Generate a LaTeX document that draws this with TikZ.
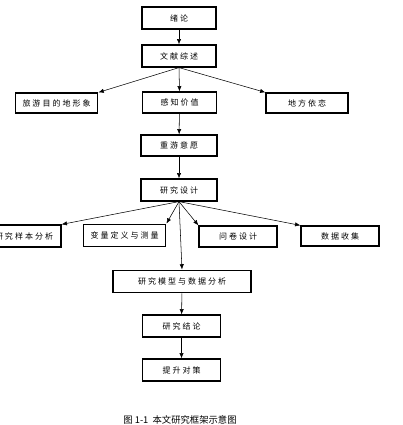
\documentclass[tikz,border=0pt]{standalone}
\usepackage{fontspec}
\newfontfamily\cjk[LetterSpace=25]{Noto Sans CJK SC}
\newfontfamily\cjkcap{Noto Sans CJK SC}
\usetikzlibrary{positioning,arrows.meta}

\begin{document}
\begin{tikzpicture}[x=0.75pt,y=-0.75pt,% one unit is one pixel of the reference
        box/.style={draw,line width=0.9pt,inner sep=0pt,font=\cjk\fontsize{6}{6}\selectfont},
        arr/.style={-{Latex[length=4pt,width=3.2pt]},line width=0.4pt}]
\useasboundingbox (0,0) rectangle (403,425);

% main column
\node[box,minimum width=55.5pt,minimum height=16.5pt] (intro) at (179,18) {绪论};
\node[box,minimum width=55.5pt,minimum height=16.5pt] (review) at (179,56) {文献综述};
\node[box,minimum width=62pt,minimum height=15pt] (image) at (56.5,103) {旅游目的地形象};
\node[box,minimum width=56pt,minimum height=15.8pt] (value) at (179.5,102.5) {感知价值};
\node[box,minimum width=61.5pt,minimum height=15pt] (attach) at (307,103) {地方依恋};
\node[box,minimum width=57pt,minimum height=15.8pt] (revisit) at (179,145.5) {重游意愿};
\node[box,minimum width=57pt,minimum height=16.5pt] (design) at (179,190) {研究设计};

% second fan
\node[box,minimum width=55.5pt,minimum height=16.5pt] (sample) at (24,236) {研究样本分析};
\node[box,minimum width=62pt,minimum height=17pt] (variable) at (124.5,235.5) {变量定义与测量};
\node[box,minimum width=58.5pt,minimum height=15.8pt] (quest) at (238,236.5) {问卷设计};
\node[box,minimum width=58.5pt,minimum height=15pt] (collect) at (340,236) {数据收集};

\node[box,minimum width=103.5pt,minimum height=17pt] (model) at (182,281.5) {研究模型与数据分析};
\node[box,minimum width=59pt,minimum height=16.5pt] (concl) at (181.5,326) {研究结论};
\node[box,minimum width=59pt,minimum height=16.5pt] (policy) at (181.5,370) {提升对策};

\node[font=\cjkcap\fontsize{7}{7}\selectfont] (caption) at (180,420) {图 1-1\ \ 本文研究框架示意图};

% connectors
\draw[arr] (intro) -- (review);
\draw[arr] (review.south) -- (image.north east);
\draw[arr] (review.south) -- (value.north);
\draw[arr] (review.south) -- (attach.north west);
\draw[arr] (value) -- (revisit);
\draw[arr] (revisit) -- (design);
\foreach \t in {sample.north east,variable.north east,quest.north west,collect.north west,model.north}{
\draw[arr] (design.south) -- (\t);
}
\draw[arr] (model) -- (concl);
\draw[arr] (concl) -- (policy);

\end{tikzpicture}
\end{document}
